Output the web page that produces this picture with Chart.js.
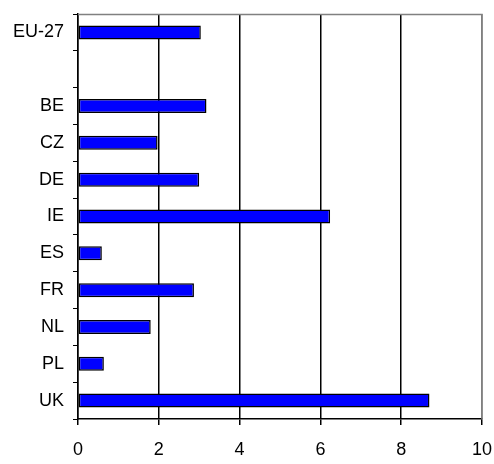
<!DOCTYPE html>
<html>
<head>
<meta charset="utf-8">
<script src="https://cdn.jsdelivr.net/npm/chart.js@4"></script>
<style>
  html, body { margin: 0; padding: 0; background: #fff; }
  #wrap { width: 494px; height: 464px; }
</style>
</head>
<body>
<div id="wrap"><canvas id="chart" width="494" height="464"></canvas></div>
<script>
const categories = ["EU-27", "", "BE", "CZ", "DE", "IE", "ES", "FR", "NL", "PL", "UK"];
const values = [3.04, null, 3.18, 1.97, 3.0, 6.24, 0.59, 2.87, 1.8, 0.64, 8.7];
const xTicks = [0, 2, 4, 6, 8, 10];

// gray frame on top and right of the plot area
const plotFrame = {
  id: "plotFrame",
  afterDraw(chart) {
    const a = chart.chartArea;
    const ctx = chart.ctx;
    ctx.save();
    ctx.strokeStyle = "#808080";
    ctx.lineWidth = 1.5;
    ctx.beginPath();
    ctx.moveTo(a.left, a.top + 0.5);
    ctx.lineTo(a.right, a.top + 0.5);
    ctx.lineTo(a.right, a.bottom);
    ctx.stroke();
    ctx.restore();
  }
};

const ctx = document.getElementById("chart").getContext("2d");
new Chart(ctx, {
  type: "bar",
  data: {
    labels: categories,
    datasets: [{
      data: values,
      backgroundColor: "#0000ff",
      borderColor: "#000000",
      borderWidth: 1.5,
      borderSkipped: false,
      categoryPercentage: 1,
      barPercentage: 0.38
    }]
  },
  options: {
    indexAxis: "y",
    responsive: false,
    animation: false,
    layout: { padding: { top: 14, right: 12, left: 0, bottom: 0 } },
    plugins: { legend: { display: false }, tooltip: { enabled: false } },
    scales: {
      x: {
        min: 0,
        max: 10,
        afterBuildTicks: axis => { axis.ticks = xTicks.map(v => ({ value: v })); },
        afterFit: axis => {
          axis.height = 45;
          axis.paddingLeft = 0;
          axis.paddingRight = 0;
        },
        grid: {
          color: c => (c.tick && c.tick.value === 10 ? "#808080" : "#000000"),
          tickColor: "#000000",
          tickLength: 6,
          lineWidth: 1.5
        },
        border: { color: "#000000", width: 1.5 },
        ticks: {
          color: "#000000",
          font: { family: "Liberation Sans, Arial, sans-serif", size: 18 },
          padding: 14,
          maxRotation: 0
        }
      },
      y: {
        offset: true,
        afterFit: axis => {
          axis.width = 78;
          axis.paddingTop = 0;
          axis.paddingBottom = 0;
        },
        grid: {
          offset: true,
          drawOnChartArea: false,
          tickColor: "#000000",
          tickLength: 5
        },
        border: { color: "#000000", width: 1.5 },
        ticks: {
          color: "#000000",
          font: { family: "Liberation Sans, Arial, sans-serif", size: 18 },
          padding: 9
        }
      }
    }
  },
  plugins: [plotFrame]
});
</script>
</body>
</html>
